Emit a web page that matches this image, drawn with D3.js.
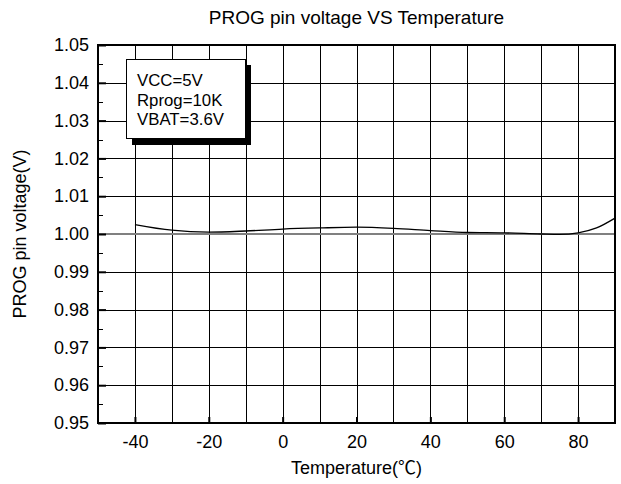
<!DOCTYPE html>
<html>
<head>
<meta charset="utf-8">
<script src="https://cdn.jsdelivr.net/npm/d3@7"></script>
<style>
  html, body { margin: 0; padding: 0; background: #fff; }
  svg { display: block; font-family: "Liberation Sans", Arial, "Noto Sans CJK SC", sans-serif; }
</style>
</head>
<body>
<svg id="chart" width="621" height="484"></svg>
<script>
// ---- data ----
const temps = [-40, -30, -20, -10, 0, 10, 20, 30, 40, 50, 60, 70, 75, 80, 85, 90];
const voltage = [1.0025, 1.0010, 1.0005, 1.0008, 1.0013, 1.0016, 1.0018, 1.0015, 1.0009, 1.0004, 1.0003, 1.0000, 0.9999, 1.0003, 1.0016, 1.0042];
const xTicks = [-40, -20, 0, 20, 40, 60, 80];
const xGrid = [-40, -30, -20, -10, 0, 10, 20, 30, 40, 50, 60, 70, 80];
const yTicks = [0.95, 0.96, 0.97, 0.98, 0.99, 1.00, 1.01, 1.02, 1.03, 1.04, 1.05];
const yMinor = [0.955, 0.965, 0.975, 0.985, 0.995, 1.005, 1.015, 1.025, 1.035, 1.045];
const legendLines = ["VCC=5V", "Rprog=10K", "VBAT=3.6V"];
const titleText = "PROG pin voltage VS Temperature";
const xTitle = "Temperature(℃)";
const yTitle = "PROG pin voltage(V)";

// ---- layout ----
const L = 98, R = 615, T = 45, B = 423;
const svg = d3.select("#chart");
const x = d3.scaleLinear().domain([-50, 90]).range([L, R]);
const y = d3.scaleLinear().domain([0.95, 1.05]).range([B, T]);

// grid
const g = svg.append("g");
g.selectAll("line.vg").data(xGrid).join("line")
  .attr("x1", d => Math.round(x(d)) + 0.5).attr("x2", d => Math.round(x(d)) + 0.5)
  .attr("y1", T).attr("y2", B)
  .attr("stroke", "#000").attr("stroke-width", 1);
g.selectAll("line.hg").data(yTicks.slice(1, -1).filter(d => Math.abs(d - 1) > 1e-9)).join("line")
  .attr("x1", L).attr("x2", R)
  .attr("y1", d => Math.round(y(d)) + 0.5).attr("y2", d => Math.round(y(d)) + 0.5)
  .attr("stroke", "#000").attr("stroke-width", 1);
// reference line at 1.00
g.append("line")
  .attr("x1", L).attr("x2", R).attr("y1", Math.round(y(1.0))).attr("y2", Math.round(y(1.0)))
  .attr("stroke", "#808080").attr("stroke-width", 2);

// minor y ticks
g.selectAll("line.ym").data(yMinor).join("line")
  .attr("x1", L).attr("x2", L + 5)
  .attr("y1", d => Math.round(y(d)) + 0.5).attr("y2", d => Math.round(y(d)) + 0.5)
  .attr("stroke", "#000").attr("stroke-width", 1);

// axes
const yAxis = d3.axisLeft(y).tickValues(yTicks).tickFormat(d3.format(".2f")).tickSize(-8).tickPadding(9);
const yg = svg.append("g").attr("transform", `translate(${L},0)`).call(yAxis);
yg.select(".domain").remove();
yg.selectAll(".tick line").attr("stroke-width", 2);
yg.selectAll("text").attr("font-size", 18).attr("fill", "#000").attr("font-family", null);

const xAxis = d3.axisBottom(x).tickValues(xTicks).tickFormat(d => String(d)).tickSize(-6).tickPadding(12);
const xg = svg.append("g").attr("transform", `translate(0,${B})`).call(xAxis);
xg.select(".domain").remove();
xg.selectAll(".tick line").attr("stroke-width", 2);
xg.selectAll("text").attr("font-size", 18).attr("fill", "#000").attr("font-family", null);

// frame
svg.append("rect").attr("x", L).attr("y", T).attr("width", R - L).attr("height", B - T)
  .attr("fill", "none").attr("stroke", "#000").attr("stroke-width", 2);

// curve
const line = d3.line().x((d, i) => x(temps[i])).y(d => y(d)).curve(d3.curveMonotoneX);
svg.append("path").datum(voltage).attr("d", line)
  .attr("fill", "none").attr("stroke", "#000").attr("stroke-width", 1.3);

// legend
svg.append("rect").attr("x", 132).attr("y", 65).attr("width", 119).attr("height", 80).attr("fill", "#000");
svg.append("rect").attr("x", 126.5).attr("y", 59.5).attr("width", 119).attr("height", 79)
  .attr("fill", "#fff").attr("stroke", "#000").attr("stroke-width", 1);
svg.selectAll("text.leg").data(legendLines).join("text")
  .attr("x", 137).attr("y", (d, i) => 86 + i * 19.5)
  .attr("font-size", 16.8).text(d => d);

// titles
svg.append("text").attr("x", (L + R) / 2).attr("y", 24).attr("text-anchor", "middle")
  .attr("font-size", 19).text(titleText);
svg.append("text").attr("x", (L + R) / 2).attr("y", 474).attr("text-anchor", "middle")
  .attr("font-size", 18).text(xTitle);
svg.append("text").attr("transform", `translate(26,${(T + B) / 2}) rotate(-90)`)
  .attr("text-anchor", "middle").attr("font-size", 18).text(yTitle);
</script>
</body>
</html>
